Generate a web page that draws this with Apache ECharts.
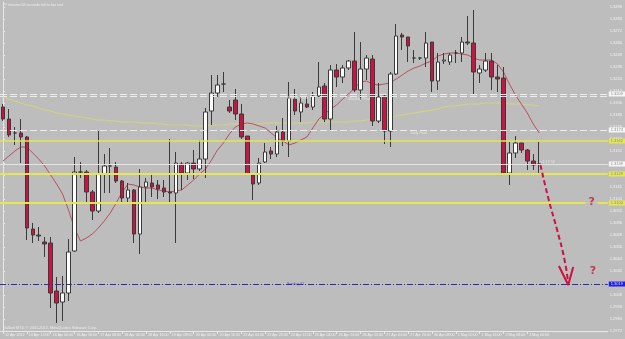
<!DOCTYPE html>
<html><head><meta charset="utf-8">
<script src="https://cdn.jsdelivr.net/npm/echarts@6/dist/echarts.min.js"></script>
<style>html,body{margin:0;padding:0;background:#bdbdbd}#c{width:625px;height:339px}</style>
</head><body><div id="c"></div>
<script>
// x-axis tick labels (one every 4 bars, H4)
const tickLabels = ["12 Apr 2012","13 Apr 12:00","16 Apr 00:00","16 Apr 16:00","17 Apr 08:00","18 Apr 00:00","18 Apr 16:00","19 Apr 08:00","20 Apr 00:00","20 Apr 16:00","23 Apr 04:00","23 Apr 20:00","24 Apr 12:00","25 Apr 04:00","25 Apr 20:00","26 Apr 12:00","27 Apr 04:00","27 Apr 20:00","30 Apr 08:00","1 May 00:00","1 May 16:00","2 May 08:00","3 May 00:00"];
const slotCount = 102; // bars plus right chart shift

const open  = [1.3196,1.3184,1.3170,1.3170,1.3166,1.3074,1.3068,1.3061,1.3060,1.3012,1.3001,1.3010,1.3052,1.3131,1.3131,1.3111,1.3092,1.3129,1.3137,1.3136,1.3122,1.3105,1.3113,1.3069,1.3116,1.3120,1.3118,1.3115,1.3111,1.3110,1.3139,1.3130,1.3140,1.3134,1.3144,1.3192,1.3210,1.3219,1.3196,1.3203,1.3189,1.3167,1.3128,1.3120,1.3141,1.3152,1.3149,1.3171,1.3162,1.3204,1.3191,1.3199,1.3196,1.3207,1.3217,1.3184,1.3233,1.3226,1.3235,1.3242,1.3213,1.3234,1.3244,1.3182,1.3207,1.3172,1.3229,1.3268,1.3266,1.3245,1.3245,1.3245,1.3261,1.3222,1.3242,1.3241,1.3250,1.3250,1.3261,1.3260,1.3230,1.3233,1.3242,1.3226,1.3225,1.3130,1.3150,1.3160,1.3153,1.3142,1.3139];
const close = [1.3184,1.3168,1.3170,1.3166,1.3075,1.3068,1.3067,1.3059,1.3010,1.3000,1.3010,1.3051,1.3131,1.3131,1.3111,1.3092,1.3129,1.3137,1.3137,1.3122,1.3105,1.3113,1.3069,1.3116,1.3121,1.3116,1.3114,1.3111,1.3110,1.3140,1.3130,1.3140,1.3134,1.3144,1.3191,1.3210,1.3218,1.3219,1.3192,1.3189,1.3166,1.3129,1.3119,1.3140,1.3151,1.3149,1.3171,1.3162,1.3205,1.3192,1.3200,1.3196,1.3207,1.3216,1.3184,1.3233,1.3226,1.3235,1.3242,1.3213,1.3234,1.3245,1.3182,1.3206,1.3172,1.3229,1.3267,1.3266,1.3257,1.3245,1.3245,1.3260,1.3222,1.3241,1.3243,1.3248,1.3250,1.3261,1.3260,1.3231,1.3234,1.3242,1.3226,1.3224,1.3130,1.3150,1.3160,1.3153,1.3142,1.3138,1.3139];
const low   = [1.3182,1.3166,1.3158,1.3140,1.3063,1.3060,1.3062,1.3046,1.2995,1.2980,1.2982,1.3002,1.3051,1.3125,1.3100,1.3083,1.3090,1.3110,1.3110,1.3120,1.3101,1.3100,1.3060,1.3049,1.3100,1.3106,1.3104,1.3106,1.3101,1.3060,1.3113,1.3123,1.3124,1.3132,1.3125,1.3178,1.3206,1.3211,1.3190,1.3183,1.3164,1.3128,1.3103,1.3118,1.3140,1.3144,1.3146,1.3157,1.3146,1.3188,1.3181,1.3195,1.3193,1.3206,1.3181,1.3173,1.3216,1.3220,1.3233,1.3211,1.3203,1.3223,1.3177,1.3180,1.3159,1.3156,1.3228,1.3253,1.3241,1.3240,1.3243,1.3236,1.3211,1.3213,1.3239,1.3238,1.3240,1.3241,1.3258,1.3208,1.3220,1.3231,1.3213,1.3211,1.3129,1.3118,1.3145,1.3150,1.3133,1.3133,1.3128];
const high  = [1.3199,1.3194,1.3176,1.3184,1.3167,1.3080,1.3076,1.3066,1.3066,1.3026,1.3027,1.3064,1.3146,1.3141,1.3133,1.3113,1.3172,1.3149,1.3155,1.3141,1.3123,1.3120,1.3114,1.3134,1.3125,1.3129,1.3123,1.3123,1.3164,1.3151,1.3141,1.3141,1.3153,1.3163,1.3195,1.3228,1.3228,1.3231,1.3203,1.3214,1.3199,1.3167,1.3129,1.3145,1.3160,1.3156,1.3177,1.3185,1.3221,1.3214,1.3206,1.3206,1.3211,1.3241,1.3220,1.3238,1.3239,1.3238,1.3243,1.3271,1.3261,1.3248,1.3248,1.3220,1.3208,1.3231,1.3279,1.3270,1.3266,1.3253,1.3246,1.3271,1.3261,1.3250,1.3250,1.3250,1.3253,1.3266,1.3287,1.3293,1.3238,1.3250,1.3250,1.3238,1.3236,1.3161,1.3167,1.3160,1.3154,1.3149,1.3161];
const fastMA = [1.3142,1.3147,1.3152,1.3156,1.3156,1.3150,1.3144,1.3137,1.3128,1.3119,1.3109,1.3093,1.3075,1.3062,1.3065,1.3069,1.3075,1.3082,1.3090,1.3100,1.3111,1.3119,1.3118,1.3116,1.3115,1.3115,1.3113,1.3112,1.3111,1.3112,1.3113,1.3118,1.3123,1.3129,1.3134,1.3143,1.3153,1.3160,1.3169,1.3176,1.3179,1.3180,1.3179,1.3177,1.3175,1.3170,1.3165,1.3162,1.3158,1.3160,1.3163,1.3166,1.3175,1.3184,1.3189,1.3194,1.3198,1.3204,1.3209,1.3215,1.3221,1.3222,1.3219,1.3218,1.3219,1.3220,1.3224,1.3228,1.3232,1.3235,1.3237,1.3240,1.3242,1.3247,1.3249,1.3250,1.3250,1.3249,1.3248,1.3245,1.3243,1.3243,1.3243,1.3239,1.3231,1.3219,1.3208,1.3199,1.3190,1.3179,1.3170];
const slowMA = [1.3206,1.3204,1.3202,1.3200,1.3198,1.3197,1.3195,1.3193,1.3192,1.3190,1.3189,1.3188,1.3187,1.3186,1.3185,1.3184,1.3183,1.3183,1.3182,1.3182,1.3181,1.3181,1.3181,1.3180,1.3180,1.3180,1.3179,1.3179,1.3178,1.3178,1.3178,1.3178,1.3177,1.3177,1.3177,1.3178,1.3178,1.3178,1.3179,1.3179,1.3179,1.3179,1.3179,1.3179,1.3180,1.3180,1.3180,1.3180,1.3180,1.3180,1.3180,1.3180,1.3181,1.3181,1.3181,1.3181,1.3181,1.3181,1.3181,1.3182,1.3182,1.3183,1.3183,1.3184,1.3185,1.3186,1.3187,1.3188,1.3189,1.3190,1.3191,1.3192,1.3193,1.3194,1.3196,1.3197,1.3197,1.3198,1.3199,1.3199,1.3199,1.3200,1.3200,1.3200,1.3200,1.3199,1.3199,1.3199,1.3198,1.3198,1.3197];
// horizontal levels
const pivotLevels = [1.3209, 1.3207];
const dailyPivot = 1.3173;
const yellowLevels = [1.3162, 1.3129, 1.3100];
const bidPrice = 1.3139;
const sundayLevel = 1.3019;
// projected path (bar position, price)
const arrowPath = [[90.2,1.3138],[91.6,1.3103],[93.0,1.3073],[94.25,1.3043],[94.85,1.3020]];
const arrowHead = [[93.3,1.3037],[94.87,1.3018],[95.7,1.3036]];
const questionMarks = [[98.8,1.3101],[99.0,1.3032]];

const cats = Array.from({length: slotCount}, (_, i) => (i % 4 === 0 && i / 4 < tickLabels.length) ? tickLabels[i / 4] : '');
const ohlc = open.map((o, i) => [o, close[i], low[i], high[i]]);
const fmt = v => v.toFixed(4);
const FONT = 'Liberation Sans';

function boxLabel(bg, fg) {
  return {show: true, position: 'end', distance: 1, formatter: p => fmt(p.value), backgroundColor: bg, color: fg, fontSize: 4, padding: [1, 2, 0, 2], fontFamily: FONT};
}
const crimson = '#cc1240';
const yellow = '#e6e650';

const chart = echarts.init(document.getElementById('c'), null, {renderer: 'canvas'});
chart.setOption({
  animation: false,
  backgroundColor: '#bdbdbd',
  grid: {left: -2.5, right: 15.5, top: 2, bottom: 8},
  xAxis: [{
    type: 'category', data: cats, boundaryGap: true,
    axisLine: {show: true, lineStyle: {color: '#e8e8e8', width: 1}},
    axisTick: {show: true, alignWithLabel: true, length: 3, interval: (i, v) => v !== '', lineStyle: {color: '#e8e8e8'}},
    axisLabel: {interval: (i, v) => v !== '', showMinLabel: true, hideOverlap: false, align: 'left', fontSize: 3.6, color: '#f2f2f2', margin: 2, padding: [0,0,0,2], fontFamily: FONT},
    splitLine: {show: false}
  }, {
    type: 'value', min: -0.5, max: slotCount - 0.5, show: false
  }],
  yAxis: {
    type: 'value', position: 'right', min: 1.2972, max: 1.3301, interval: 0.0012, scale: true,
    splitLine: {show: false},
    axisLine: {show: true, lineStyle: {color: '#e8e8e8'}},
    axisTick: {show: true, length: 2, lineStyle: {color: '#e8e8e8'}},
    axisLabel: {fontSize: 4, color: '#f2f2f2', margin: 2, formatter: fmt, showMaxLabel: false, fontFamily: FONT}
  },
  graphic: [
    {type: 'text', left: 3, top: 3, style: {text: '77 minutes 58 seconds left to bar end', fontSize: 3.6, fill: '#ececec', fontFamily: FONT}},
    {type: 'text', left: 3, top: 326, style: {text: 'Gallant MT4, \u00a9 2001-2012, MetaQuotes Software Corp.', fontSize: 3.8, fill: '#ececec', fontFamily: FONT}}
  ],
  series: [
    {type: 'line', data: slowMA, symbol: 'none', lineStyle: {color: '#d6d47a', width: 1}, z: 1, silent: true},
    {type: 'line', data: fastMA, symbol: 'none', lineStyle: {color: '#b8505f', width: 1}, z: 1, silent: true},
    {
      type: 'candlestick', data: ohlc, barWidth: 4, z: 3,
      itemStyle: {color: '#ffffff', color0: crimson, borderColor: '#3a3a3a', borderColor0: '#3a3a3a', borderWidth: 1},
      markLine: {
        symbol: 'none', silent: true, animation: false, precision: 4,
        data: [
          {yAxis: pivotLevels[0], lineStyle: {color: '#ececec', type: [7, 3], width: 1}, label: boxLabel('#f6f6f6', '#8a8a8a')},
          {yAxis: pivotLevels[1], lineStyle: {color: '#ececec', type: [7, 3], width: 1}, label: {show: false}},
          {yAxis: dailyPivot, lineStyle: {color: '#ececec', type: [7, 3], width: 1}, label: boxLabel('#f6f6f6', '#8a8a8a')},
          {yAxis: yellowLevels[0], lineStyle: {color: yellow, type: 'solid', width: 1.5}, label: boxLabel(yellow, '#888')},
          {yAxis: bidPrice, lineStyle: {color: '#e4e4e4', type: 'solid', width: 1}, label: boxLabel('#f6f6f6', '#8a8a8a')},
          {yAxis: yellowLevels[1], lineStyle: {color: yellow, type: 'solid', width: 2}, label: boxLabel(yellow, '#888')},
          {yAxis: yellowLevels[2], lineStyle: {color: yellow, type: 'solid', width: 2}, label: boxLabel(yellow, '#888')},
          {yAxis: sundayLevel, lineStyle: {color: '#2c2cb4', type: [6, 2, 1, 2], width: 1}, label: boxLabel('#2020e0', '#d8d8ff')}
        ]
      }
    },
    {type: 'line', xAxisIndex: 1, data: arrowPath, smooth: true, symbol: 'none', lineStyle: {color: crimson, width: 2, type: [5, 3]}, z: 5, silent: true},
    {type: 'line', xAxisIndex: 1, data: arrowHead, symbol: 'none', lineStyle: {color: crimson, width: 2}, z: 5, silent: true},
    {type: 'scatter', xAxisIndex: 1, data: questionMarks, symbolSize: 0, z: 6, silent: true,
      label: {show: true, position: 'inside', formatter: '?', color: crimson, fontSize: 11, fontWeight: 'bold', backgroundColor: '#bdbdbd', padding: [0, 3], fontFamily: 'DejaVu Sans'}},
    {type: 'scatter', xAxisIndex: 1, symbolSize: 0, z: 6, silent: true,
      data: [
        {name: 'Weekly Pivot', value: [49.4, 1.32055]},
        {name: 'Monthly Pivot', value: [59.8, 1.3204]},
        {name: 'Daily Pivot', value: [69.8, 1.3170]},
        {name: '<1:17:58', value: [91.4, 1.31415]}
      ],
      label: {show: true, position: 'inside', formatter: p => p.name, color: '#eeeeee', fontSize: 3.6, fontFamily: FONT}},
    {type: 'scatter', xAxisIndex: 1, symbolSize: 0, z: 6, silent: true,
      data: [{name: 'Sunday 61', value: [49.1, 1.3019]}],
      label: {show: true, position: 'inside', formatter: p => p.name, color: '#2a2ad0', fontSize: 3.6, fontFamily: FONT}}
  ]
});
</script></body></html>
